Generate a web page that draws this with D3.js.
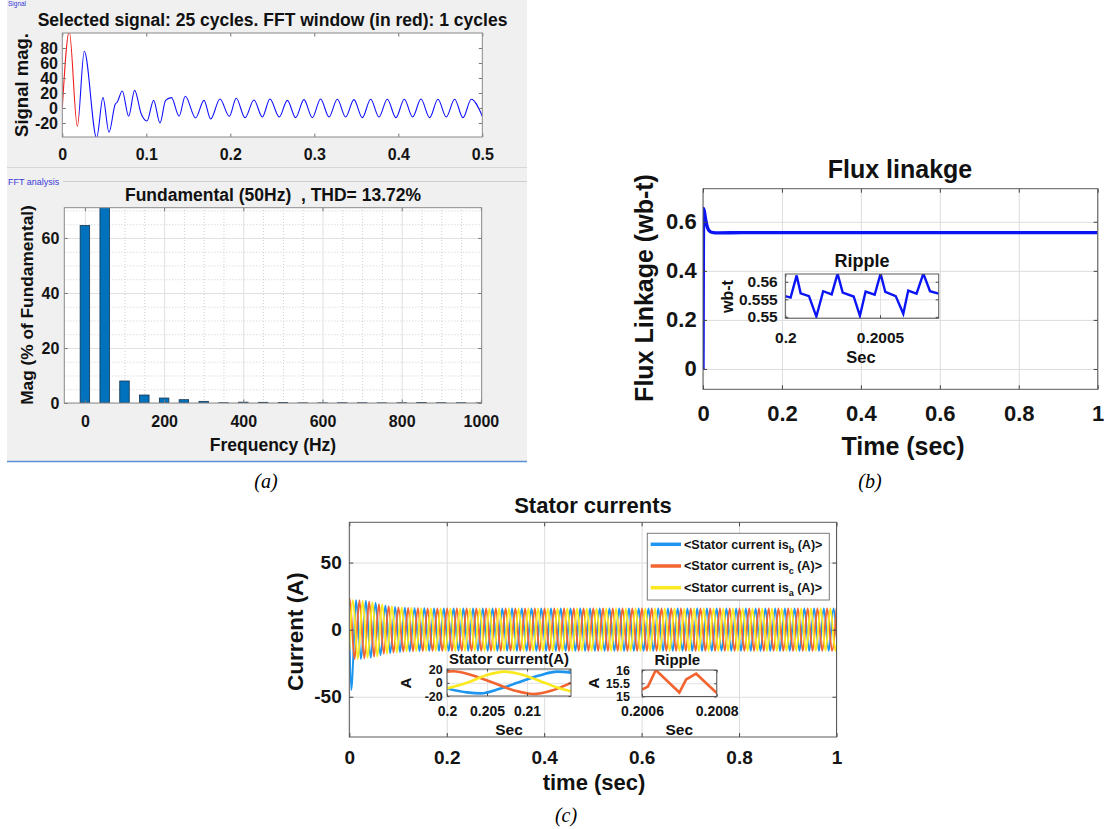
<!DOCTYPE html>
<html><head><meta charset="utf-8">
<script src="https://cdn.jsdelivr.net/npm/d3@7"></script>
<style>
html,body{margin:0;padding:0;background:#fff;}
svg{display:block;}
</style></head><body>
<svg id="fig" width="1104" height="829"></svg>
<script>
// ================= DATA =================
// (a) top: selected signal (extrema / shape points)
const sigTime = [0, 0.0083, 0.0179, 0.0262, 0.0409, 0.0484, 0.0556, 0.063, 0.0655, 0.0714, 0.079, 0.0861, 0.094, 0.1008, 0.1087, 0.1163, 0.123, 0.130, 0.139, 0.1464, 0.1587, 0.1687, 0.1766, 0.1877, 0.1988, 0.2071, 0.2175, 0.2282, 0.2381, 0.2472, 0.2583, 0.2679, 0.2778, 0.2877, 0.2976, 0.3075, 0.3175, 0.3274, 0.3373, 0.3472, 0.3571, 0.3671, 0.377, 0.3869, 0.3972, 0.4071, 0.4171, 0.427, 0.4373, 0.4472, 0.4571, 0.4671, 0.477, 0.4869, 0.5];
const sigValue = [0, 102, -24.4, 75.6, -40, 13.8, -32.4, 4.9, 8, 22.7, -11, 23.5, -8, -17.3, 10.2, -20, 10.2, 13.8, -11, 15.6, -13.3, 10.2, -14.7, 12, -11, 12.9, -12.9, 10.7, -12, 12, -12, 10.2, -12.9, 11.1, -12.9, 12, -12, 11.6, -12, 11.1, -12.9, 11.6, -12, 11.6, -12.9, 11.6, -12, 12, -12.9, 11.6, -12, 11.6, -12.9, 11.6, -11];
const fftWindowEnd = 0.02;
const sigXTicks = [0, 0.1, 0.2, 0.3, 0.4, 0.5];
const sigYTicks = [-20, 0, 20, 40, 60, 80];

// (a) bottom: FFT spectrum (% of fundamental)
const fftFreq = [0, 50, 100, 150, 200, 250, 300, 350, 400, 450, 500, 550, 600, 650, 700, 750, 800, 850, 900, 950, 1000];
const fftMag  = [64.5, 100, 8.0, 2.9, 1.8, 1.2, 0.6, 0.1, 0.3, 0.25, 0.2, 0.05, 0.05, 0.1, 0.1, 0.05, 0.1, 0.15, 0.1, 0.1, 0.05];
const fftXTicks = [0, 200, 400, 600, 800, 1000];
const fftYTicks = [0, 20, 40, 60];
const fftXMinor = [50, 100, 150, 250, 300, 350, 450, 500, 550, 650, 700, 750, 850, 900, 950];
const fftYMinor = [5, 10, 15, 25, 30, 35, 45, 50, 55, 65, 70];

// (b) flux linkage
const fluxTime = [0, 0.0017, 0.006, 0.011, 0.018, 0.026, 0.04, 0.1, 0.2, 0.3, 0.4, 0.5, 0.6, 0.7, 0.8, 0.9, 1];
const fluxValue = [0, 0.654, 0.615, 0.578, 0.560, 0.556, 0.555, 0.556, 0.556, 0.556, 0.556, 0.556, 0.556, 0.556, 0.556, 0.556, 0.556];
const fluxXTicks = [0, 0.2, 0.4, 0.6, 0.8, 1];
const fluxYTicks = [0, 0.2, 0.4, 0.6];
// (b) ripple inset
const rippleTime = [0.2, 0.200028, 0.20006, 0.200081, 0.200125, 0.200164, 0.2002, 0.200245, 0.200276, 0.200303, 0.200361, 0.200394, 0.200424, 0.200472, 0.200503, 0.200528, 0.200583, 0.200623, 0.200649, 0.200693, 0.200729, 0.200764, 0.20081];
const rippleValue = [0.5559, 0.5555, 0.5618, 0.5567, 0.5559, 0.5501, 0.5573, 0.5564, 0.5623, 0.5569, 0.5558, 0.5503, 0.5572, 0.5563, 0.5623, 0.5571, 0.5559, 0.5509, 0.5575, 0.5566, 0.5623, 0.5573, 0.5566];
const rippleXTicks = [0.2, 0.2005];
const rippleYTicks = [0.55, 0.555, 0.56];

// (c) stator currents: successive half-cycle extrema (A), spaced by half a period
const currentHalfPeriod = 0.01;
const isbStart = 0.004, iscStart = 0.0008, isaStart = 0.0075;
const isbFirst = 0, iscFirst = 22, isaFirst = -15.5;
const isbLast = -4.4, iscLast = 15.7, isaLast = -11.2;
const isbPeaks = [
 -45,22,-22,21.5,-21,20,-19,18,-17.5,17,-16.6,16.3,-16.1,16,-15.9,15.9,
 -15.8,15.8,-15.8,15.8,-15.8,15.8,-15.8,15.8,-15.8,15.8,-15.8,15.8,
 -15.8,15.8,-15.8,15.8,-15.8,15.8,-15.8,15.8,-15.8,15.8,-15.8,15.8,
 -15.8,15.8,-15.8,15.8,-15.8,15.8,-15.8,15.8,-15.8,15.8,-15.8,15.8,
 -15.8,15.8,-15.8,15.8,-15.8,15.8,-15.8,15.8,-15.8,15.8,-15.8,15.8,
 -15.8,15.8,-15.8,15.8,-15.8,15.8,-15.8,15.8,-15.8,15.8,-15.8,15.8,
 -15.8,15.8,-15.8,15.8,-15.8,15.8,-15.8,15.8,-15.8,15.8,-15.8,15.8,
 -15.8,15.8,-15.8,15.8,-15.8,15.8,-15.8,15.8,-15.8,15.8,-15.8,15.8];
const iscPeaks = [
 23,-22,22,-21.5,21,-20,19,-18,17.5,-17,16.6,-16.3,16.1,-16,15.9,-15.9,
 15.8,-15.8,15.8,-15.8,15.8,-15.8,15.8,-15.8,15.8,-15.8,15.8,-15.8,
 15.8,-15.8,15.8,-15.8,15.8,-15.8,15.8,-15.8,15.8,-15.8,15.8,-15.8,
 15.8,-15.8,15.8,-15.8,15.8,-15.8,15.8,-15.8,15.8,-15.8,15.8,-15.8,
 15.8,-15.8,15.8,-15.8,15.8,-15.8,15.8,-15.8,15.8,-15.8,15.8,-15.8,
 15.8,-15.8,15.8,-15.8,15.8,-15.8,15.8,-15.8,15.8,-15.8,15.8,-15.8,
 15.8,-15.8,15.8,-15.8,15.8,-15.8,15.8,-15.8,15.8,-15.8,15.8,-15.8,
 15.8,-15.8,15.8,-15.8,15.8,-15.8,15.8,-15.8,15.8,-15.8,15.8,-15.8];
const isaPeaks = [
 22,-22,21.5,-21,20.5,-20,19,-18,17.5,-17,16.6,-16.3,16.1,-16,15.9,-15.9,
 15.8,-15.8,15.8,-15.8,15.8,-15.8,15.8,-15.8,15.8,-15.8,15.8,-15.8,
 15.8,-15.8,15.8,-15.8,15.8,-15.8,15.8,-15.8,15.8,-15.8,15.8,-15.8,
 15.8,-15.8,15.8,-15.8,15.8,-15.8,15.8,-15.8,15.8,-15.8,15.8,-15.8,
 15.8,-15.8,15.8,-15.8,15.8,-15.8,15.8,-15.8,15.8,-15.8,15.8,-15.8,
 15.8,-15.8,15.8,-15.8,15.8,-15.8,15.8,-15.8,15.8,-15.8,15.8,-15.8,
 15.8,-15.8,15.8,-15.8,15.8,-15.8,15.8,-15.8,15.8,-15.8,15.8,-15.8,
 15.8,-15.8,15.8,-15.8,15.8,-15.8,15.8,-15.8,15.8,-15.8,15.8,-15.8];
const statorXTicks = [0, 0.2, 0.4, 0.6, 0.8, 1];
const statorYTicks = [-50, 0, 50];
const legendSubs = ["b", "c", "a"];

// (c) inset: stator current zoom
const zoomTime_c = [0.2, 0.2008, 0.203, 0.2058, 0.2085, 0.2108, 0.213, 0.2155];
const zoomIsc    = [17, 17.5, 12, 0, -12, -17, -12, 0];
const zoomTime_b = [0.2, 0.2025, 0.2042, 0.2066, 0.2088, 0.2115, 0.2138, 0.2155];
const zoomIsb    = [-8.5, -14.5, -16, -9, 0, 11, 17, 15.5];
const zoomTime_a = [0.2, 0.2025, 0.2048, 0.2072, 0.2095, 0.2122, 0.214, 0.2155];
const zoomIsa    = [-8.5, 0, 11, 17, 12, 0, -8, -13];
const zoomXTicks = [0.2, 0.205, 0.21];
const zoomYTicks = [-20, 0, 20];
// (c) inset: ripple
const ripCTime  = [0.2006, 0.200616, 0.200637, 0.2007, 0.200718, 0.200745, 0.2008];
const ripCValue = [15.26, 15.38, 16.0, 15.15, 15.64, 15.86, 15.13];
const ripCXTicks = [0.2006, 0.2008];
const ripCYTicks = [15, 15.5, 16];

// ================= DRAWING =================
const FONT = '"Liberation Sans", Arial, Helvetica, sans-serif';
const SERIF = '"Liberation Serif", "Times New Roman", serif';
const svg = d3.select("#fig");
const defs = svg.append("defs");
svg.append("rect").attr("width", 1104).attr("height", 829).attr("fill", "#fff");

function txt(g, x, y, s, fs, o = {}) {
  const t = g.append("text").attr("x", x).attr("y", y)
    .attr("font-family", o.family || FONT).attr("font-size", fs)
    .attr("font-weight", o.weight || "bold").attr("fill", o.fill || "#111")
    .attr("text-anchor", o.anchor || "middle");
  if (o.rotate) t.attr("transform", `rotate(-90,${x},${y})`);
  if (o.style) t.attr("font-style", o.style);
  t.text(s);
  return t;
}
let clipN = 0;
function clipRect(x, y, w, h) {
  const id = "cp" + (clipN++);
  defs.append("clipPath").attr("id", id).append("rect").attr("x", x).attr("y", y).attr("width", w).attr("height", h);
  return `url(#${id})`;
}
function plotClip(x, y) {
  const [xa, xb] = x.range(), [yb, ya] = y.range();
  return clipRect(xa, ya, xb - xa, yb - ya);
}
function gridStyle(s, col, dash) {
  s.select(".domain").remove();
  s.selectAll(".tick line").attr("stroke", col).attr("stroke-width", 1).attr("stroke-dasharray", dash || null);
}
function axesBack(g, x, y, o) {
  const [xa, xb] = x.range(), [yb, ya] = y.range();
  const W = xb - xa, H = yb - ya;
  g.append("rect").attr("x", xa).attr("y", ya).attr("width", W).attr("height", H).attr("fill", "#fff");
  if (o.xMinor) g.append("g").attr("transform", `translate(0,${yb})`)
    .call(d3.axisBottom(x).tickValues(o.xMinor).tickSize(-H).tickFormat("")).call(s => gridStyle(s, "#cfcfcf", "1,2"));
  if (o.yMinor) g.append("g").attr("transform", `translate(${xa},0)`)
    .call(d3.axisLeft(y).tickValues(o.yMinor).tickSize(-W).tickFormat("")).call(s => gridStyle(s, "#cfcfcf", "1,2"));
  if (o.grid) {
    g.append("g").attr("transform", `translate(0,${yb})`)
      .call(d3.axisBottom(x).tickValues(o.xTicks).tickSize(-H).tickFormat("")).call(s => gridStyle(s, o.gridColor || "#dcdcdc"));
    g.append("g").attr("transform", `translate(${xa},0)`)
      .call(d3.axisLeft(y).tickValues(o.yTicks).tickSize(-W).tickFormat("")).call(s => gridStyle(s, o.gridColor || "#dcdcdc"));
  }
}
function axesFront(g, x, y, o) {
  const [xa, xb] = x.range(), [yb, ya] = y.range();
  const tl = o.tickLen || 4, tc = o.tickColor || "#444";
  const fmt = d => String(d);
  const st = s => {
    s.attr("font-family", FONT).attr("font-size", o.fs).attr("font-weight", "bold");
    s.select(".domain").remove();
    s.selectAll(".tick line").attr("stroke", tc).attr("stroke-width", 1);
    s.selectAll(".tick text").attr("fill", "#141414");
  };
  const ax = g.append("g").attr("transform", `translate(0,${yb})`)
    .call(d3.axisBottom(x).tickValues(o.xTicks).tickSizeInner(-tl).tickSizeOuter(0).tickPadding(o.xPad).tickFormat(fmt)).call(st);
  const ay = g.append("g").attr("transform", `translate(${xa},0)`)
    .call(d3.axisLeft(y).tickValues(o.yTicks).tickSizeInner(-tl).tickSizeOuter(0).tickPadding(o.yPad).tickFormat(fmt)).call(st);
  if (o.yFs) ay.attr("font-size", o.yFs);
  g.append("g").attr("transform", `translate(0,${ya})`)
    .call(d3.axisTop(x).tickValues(o.xTicks).tickSizeInner(-tl).tickSizeOuter(0).tickFormat("")).call(st);
  g.append("g").attr("transform", `translate(${xb},0)`)
    .call(d3.axisRight(y).tickValues(o.yTicks).tickSizeInner(-tl).tickSizeOuter(0).tickFormat("")).call(st);
  g.append("rect").attr("x", xa).attr("y", ya).attr("width", xb - xa).attr("height", yb - ya)
    .attr("fill", "none").attr("stroke", o.boxColor || "#555").attr("stroke-width", 1);
}
const zip = (a, b) => a.map((v, i) => [v, b[i]]);

// ---------- panel (a) frame ----------
const gA = svg.append("g");
gA.append("rect").attr("x", 7).attr("y", 0).attr("width", 520).attr("height", 461).attr("fill", "#f0f0f0");
gA.append("line").attr("x1", 7).attr("x2", 527).attr("y1", 167.5).attr("y2", 167.5).attr("stroke", "#d6d6d6");
gA.append("line").attr("x1", 63).attr("x2", 527).attr("y1", 181.5).attr("y2", 181.5).attr("stroke", "#cfcfcf");
gA.append("line").attr("x1", 7).attr("x2", 527).attr("y1", 461.5).attr("y2", 461.5).attr("stroke", "#5b8fd4").attr("stroke-width", 1.5);
txt(gA, 8, 6, "Signal", 6.5, { anchor: "start", weight: "normal", fill: "#3a3ad8" });
txt(gA, 8, 184.5, "FFT analysis", 9, { anchor: "start", weight: "normal", fill: "#3a3ad8" });

// ---------- (a) top: signal ----------
const xSig = d3.scaleLinear().domain([0, 0.5]).range([62.3, 482.3]);
const ySig = d3.scaleLinear().domain([-38.7, 100]).range([137, 33]);
const gSig = svg.append("g");
axesBack(gSig, xSig, ySig, {});
const sigLine = d3.line().x(d => xSig(d[0])).y(d => ySig(d[1])).curve(d3.curveMonotoneX);
const sigPts = zip(sigTime, sigValue);
gSig.append("path").attr("d", sigLine(sigPts)).attr("fill", "none").attr("stroke", "#1010ff").attr("stroke-width", 1.1)
  .attr("clip-path", clipRect(xSig(fftWindowEnd), 33, 482.3 - xSig(fftWindowEnd), 104));
gSig.append("path").attr("d", sigLine(sigPts)).attr("fill", "none").attr("stroke", "#ee2020").attr("stroke-width", 1.1)
  .attr("clip-path", clipRect(62.3, 33, xSig(fftWindowEnd) - 62.3, 104));
axesFront(gSig, xSig, ySig, { xTicks: sigXTicks, yTicks: sigYTicks, fs: 16, xPad: 11.6, yPad: 4.3, tickLen: 3.5, boxColor: "#8a8a8a", tickColor: "#777" });
txt(gSig, 272.5, 26, "Selected signal: 25 cycles. FFT window (in red): 1 cycles", 17.5);
txt(gSig, 27.5, 85, "Signal mag.", 18.5, { rotate: true });

// ---------- (a) bottom: FFT ----------
const xFft = d3.scaleLinear().domain([-52, 1002]).range([64.3, 481.7]);
const yFft = d3.scaleLinear().domain([0, 71]).range([403, 207.7]);
const gFft = svg.append("g");
axesBack(gFft, xFft, yFft, { grid: true, xTicks: fftXTicks, yTicks: fftYTicks, xMinor: fftXMinor, yMinor: fftYMinor, gridColor: "#e0e0e0" });
gFft.append("g").attr("clip-path", plotClip(xFft, yFft)).selectAll("rect").data(zip(fftFreq, fftMag)).join("rect")
  .attr("x", d => xFft(d[0] - 12)).attr("width", d => xFft(d[0] + 12) - xFft(d[0] - 12))
  .attr("y", d => yFft(d[1])).attr("height", d => yFft(0) - yFft(d[1]))
  .attr("fill", "#0072bd").attr("stroke", "#13324f").attr("stroke-width", 0.8);
axesFront(gFft, xFft, yFft, { xTicks: fftXTicks, yTicks: fftYTicks, fs: 16, xPad: 13, yPad: 5, tickLen: 3.5, boxColor: "#8a8a8a", tickColor: "#777" });
txt(gFft, 273, 201, "Fundamental (50Hz)  , THD= 13.72%", 17.5).attr("xml:space", "preserve").style("white-space", "pre");
txt(gFft, 273, 451, "Frequency (Hz)", 17.5);
txt(gFft, 33, 305, "Mag (% of Fundamental)", 17.3, { rotate: true });
txt(svg, 266, 488, "(a)", 20, { family: SERIF, weight: "normal", style: "italic", fill: "#000" });

// ---------- (b) flux linkage ----------
const xFl = d3.scaleLinear().domain([0, 1]).range([703, 1097.7]);
const yFl = d3.scaleLinear().domain([-0.083, 0.735]).range([389.3, 188.7]);
const gFl = svg.append("g");
axesBack(gFl, xFl, yFl, { grid: true, xTicks: fluxXTicks, yTicks: fluxYTicks });
gFl.append("path").attr("d", d3.line().x(d => xFl(d[0])).y(d => yFl(d[1])).curve(d3.curveMonotoneX)(zip(fluxTime, fluxValue)))
  .attr("fill", "none").attr("stroke", "#0a14f5").attr("stroke-width", 3.4).attr("clip-path", plotClip(xFl, yFl));
axesFront(gFl, xFl, yFl, { xTicks: fluxXTicks, yTicks: fluxYTicks, fs: 22, xPad: 15.8, yPad: 6.3, tickLen: 4, boxColor: "#5a5a5a" });
txt(gFl, 900, 178, "Flux linakge", 25);
txt(gFl, 903, 455, "Time (sec)", 25);
txt(gFl, 653, 288, "Flux Linkage (wb-t)", 25, { rotate: true });
// inset
const xRb = d3.scaleLinear().domain([0.2, 0.20081]).range([785.3, 938.7]);
const yRb = d3.scaleLinear().domain([0.5496, 0.5622]).range([318.3, 274]);
const gRb = svg.append("g");
axesBack(gRb, xRb, yRb, { grid: true, xTicks: rippleXTicks, yTicks: rippleYTicks, gridColor: "#e2e2e2" });
gRb.append("path").attr("d", d3.line().x(d => xRb(d[0])).y(d => yRb(d[1]))(zip(rippleTime, rippleValue)))
  .attr("fill", "none").attr("stroke", "#0a14f5").attr("stroke-width", 2.4).attr("clip-path", plotClip(xRb, yRb));
axesFront(gRb, xRb, yRb, { xTicks: rippleXTicks, yTicks: rippleYTicks, fs: 15.5, xPad: 13.4, yPad: 7.6, tickLen: 3, boxColor: "#5a5a5a" });
txt(gRb, 862, 267, "Ripple", 18);
txt(gRb, 861, 363, "Sec", 16.5);
txt(gRb, 733, 296.5, "wb-t", 16, { rotate: true });
txt(svg, 870, 488, "(b)", 20, { family: SERIF, weight: "normal", style: "italic", fill: "#000" });

// ---------- (c) stator currents ----------
const xSt = d3.scaleLinear().domain([0, 1]).range([349.3, 836.5]);
const ySt = d3.scaleLinear().domain([-80, 80]).range([737, 522.3]);
const gSt = svg.append("g");
axesBack(gSt, xSt, ySt, { grid: true, xTicks: statorXTicks, yTicks: statorYTicks });
const stColors = { b: "#1e96f0", c: "#f26430", a: "#fbe91f" };
function buildSeries(first, start, peaks, last) {
  const pts = [[0, first]];
  peaks.forEach((v, k) => pts.push([start + k * currentHalfPeriod, v]));
  pts.push([1, last]);
  return pts;
}
const stLine = d3.line().x(d => xSt(d[0])).y(d => ySt(d[1])).curve(d3.curveMonotoneX);
const stClip = plotClip(xSt, ySt);
const stSeries = [
  ["b", buildSeries(isbFirst, isbStart, isbPeaks, isbLast)],
  ["c", buildSeries(iscFirst, iscStart, iscPeaks, iscLast)],
  ["a", buildSeries(isaFirst, isaStart, isaPeaks, isaLast)]
];
stSeries.forEach(([k, pts]) => {
  gSt.append("path").attr("d", stLine(pts)).attr("fill", "none").attr("stroke", stColors[k])
    .attr("stroke-width", 1.9).attr("clip-path", stClip);
});
axesFront(gSt, xSt, ySt, { xTicks: statorXTicks, yTicks: statorYTicks, fs: 19, xPad: 13.5, yPad: 7.6, tickLen: 4, boxColor: "#5a5a5a" });
txt(gSt, 593, 513, "Stator currents", 22);
txt(gSt, 594, 790, "time (sec)", 22);
txt(gSt, 302.5, 631.5, "Current (A)", 22.5, { rotate: true });
// legend
const gLg = svg.append("g");
gLg.append("rect").attr("x", 647.3).attr("y", 533.3).attr("width", 182).attr("height", 66.7)
  .attr("fill", "#fff").attr("stroke", "#7a7a7a").attr("stroke-width", 1);
legendSubs.forEach((s, i) => {
  const yy = 544.3 + i * 21.7;
  gLg.append("line").attr("x1", 650.7).attr("x2", 681).attr("y1", yy).attr("y2", yy)
    .attr("stroke", stColors[s]).attr("stroke-width", 3.5);
  const t = gLg.append("text").attr("x", 684).attr("y", yy + 4.3).attr("font-family", FONT)
    .attr("font-size", 12.6).attr("font-weight", "bold").attr("fill", "#141414");
  t.append("tspan").text("<Stator current is");
  t.append("tspan").attr("font-size", 9).attr("dy", 4).text(s);
  t.append("tspan").attr("dy", -4).text(" (A)>");
});
// inset 1: stator current zoom
const xZi = d3.scaleLinear().domain([0.2, 0.2155]).range([447, 571]);
const yZi = d3.scaleLinear().domain([-20, 21]).range([696, 669]);
const gZi = svg.append("g");
axesBack(gZi, xZi, yZi, { grid: true, xTicks: zoomXTicks, yTicks: zoomYTicks, gridColor: "#e2e2e2" });
const ziLine = d3.line().x(d => xZi(d[0])).y(d => yZi(d[1])).curve(d3.curveMonotoneX);
const ziClip = plotClip(xZi, yZi);
[["b", zip(zoomTime_b, zoomIsb)], ["c", zip(zoomTime_c, zoomIsc)], ["a", zip(zoomTime_a, zoomIsa)]].forEach(([k, pts]) => {
  gZi.append("path").attr("d", ziLine(pts)).attr("fill", "none").attr("stroke", stColors[k])
    .attr("stroke-width", 2.6).attr("clip-path", ziClip);
});
axesFront(gZi, xZi, yZi, { xTicks: zoomXTicks, yTicks: zoomYTicks, fs: 14, yFs: 12.5, xPad: 9.8, yPad: 4.3, tickLen: 2.5, boxColor: "#5a5a5a" });
txt(gZi, 509, 663.5, "Stator current(A)", 15);
txt(gZi, 509, 735, "Sec", 15.5);
txt(gZi, 411, 683, "A", 15, { rotate: true });
// inset 2: ripple
const xZr = d3.scaleLinear().domain([0.2006, 0.2008]).range([642, 716.7]);
const yZr = d3.scaleLinear().domain([15, 16]).range([696.5, 670]);
const gZr = svg.append("g");
axesBack(gZr, xZr, yZr, { grid: true, xTicks: ripCXTicks, yTicks: ripCYTicks, gridColor: "#e2e2e2" });
gZr.append("path").attr("d", d3.line().x(d => xZr(d[0])).y(d => yZr(d[1]))(zip(ripCTime, ripCValue)))
  .attr("fill", "none").attr("stroke", stColors.c).attr("stroke-width", 2.6).attr("clip-path", plotClip(xZr, yZr));
axesFront(gZr, xZr, yZr, { xTicks: ripCXTicks, yTicks: ripCYTicks, fs: 14, yFs: 12.5, xPad: 9.8, yPad: 12, tickLen: 2.5, boxColor: "#5a5a5a" });
txt(gZr, 677.3, 665, "Ripple", 15);
txt(gZr, 679.3, 735, "Sec", 15.5);
txt(gZr, 599, 683, "A", 15, { rotate: true });
txt(svg, 566, 822, "(c)", 20, { family: SERIF, weight: "normal", style: "italic", fill: "#000" });
</script>
</body></html>
